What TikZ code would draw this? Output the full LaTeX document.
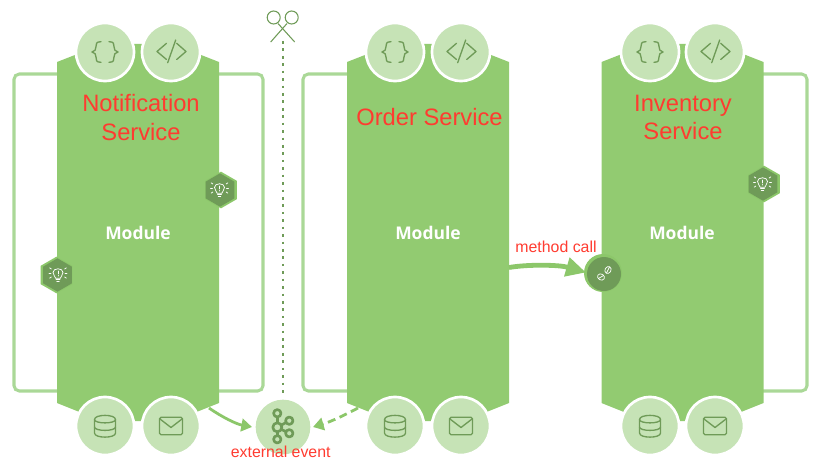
\documentclass[tikz,border=0pt]{standalone}
\usepackage{fontspec}
\setmainfont{Liberation Sans}
\newfontfamily\modfont{Open Sans}
\usetikzlibrary{arrows.meta,shapes.geometric}
\definecolor{modgreen}{HTML}{92CB71}
\definecolor{lightgreen}{HTML}{C6E3B6}
\definecolor{framegreen}{HTML}{AAD897}
\definecolor{darkgreen}{HTML}{6F9B58}
\definecolor{arrowgreen}{HTML}{8CC76A}
\definecolor{redtext}{HTML}{FF3B30}
\tikzset{
  px/.style={x=0.75pt,y=-0.75pt},
  framepath/.style={draw=framegreen,line width=2.3pt,rounded corners=4pt},
  modbody/.style={fill=modgreen,draw=none},
  disc/.style={circle,fill=lightgreen,draw=white,line width=2pt,minimum size=43.5pt,inner sep=0pt},
  icon/.style={draw=darkgreen,line width=1pt,line cap=round,line join=round,fill=none},
  wicon/.style={draw=white,line width=0.55pt,line cap=round,fill=none},
  svc/.style={text=redtext,font=\fontsize{17.8pt}{21.5pt}\selectfont,align=center,inner sep=0pt},
  modlabel/.style={text=white,font=\modfont\bfseries\fontsize{13.1pt}{15pt}\selectfont,inner sep=0pt},
  redlabel/.style={text=redtext,font=\fontsize{11.9pt}{14pt}\selectfont,inner sep=0pt},
  hexring/.style={regular polygon,regular polygon sides=6,shape border rotate=30,fill=arrowgreen,draw=none,minimum size=27.5pt,inner sep=0pt},
  hexcore/.style={regular polygon,regular polygon sides=6,shape border rotate=30,fill=darkgreen,draw=none,minimum size=25pt,inner sep=0pt},
  flow/.style={draw=arrowgreen,line width=2.1pt,-{Triangle[length=8pt,width=9.5pt]}},
}
\newcommand{\modbodyat}[1]{%
  \fill[modbody,shift={(#1,0)}] (-81,62) -- (-35,44) -- (35,44) -- (81,62) -- (81,403) -- (36,421) -- (-36,421) -- (-81,403) -- cycle;}
\newcommand{\bracesicon}[2]{%
  \begin{scope}[shift={(#1,#2)}]
    \draw[icon] (-4,-10.3) .. controls (-9,-10.3) and (-9,-8) .. (-9,-5.5) .. controls (-9,-2.5) and (-10,-0.5) .. (-13,0) .. controls (-10,0.5) and (-9,2.5) .. (-9,5) .. controls (-9,8) and (-9,10.3) .. (-4,10.3);
    \draw[icon] (4,-10.3) .. controls (9,-10.3) and (9,-8) .. (9,-5.5) .. controls (9,-2.5) and (10,-0.5) .. (13,0) .. controls (10,0.5) and (9,2.5) .. (9,5) .. controls (9,8) and (9,10.3) .. (4,10.3);
  \end{scope}}
\newcommand{\codeicon}[2]{%
  \begin{scope}[shift={(#1,#2)}]
    \draw[icon] (-4.5,-8.7) -- (-14,-0.5) -- (-4.5,7.5);
    \draw[icon] (4.7,-12) -- (-3.3,10.7);
    \draw[icon] (5.7,-8.7) -- (15,-0.5) -- (5.7,7.5);
  \end{scope}}
\newcommand{\dbicon}[2]{%
  \begin{scope}[shift={(#1,#2)}]
    \draw[icon] (-10.5,-6.5) .. controls (-10.5,-12) and (10.5,-12) .. (10.5,-6.5) -- (10.5,7) .. controls (10.5,12.5) and (-10.5,12.5) .. (-10.5,7) -- cycle;
    \draw[icon] (-10.5,-6.5) .. controls (-10.5,-2) and (10.5,-2) .. (10.5,-6.5);
    \draw[icon] (-10.5,1) .. controls (-10.5,5.5) and (10.5,5.5) .. (10.5,1);
  \end{scope}}
\newcommand{\mailicon}[2]{%
  \begin{scope}[shift={(#1,#2)}]
    \draw[icon,rounded corners=1.2pt] (-11.5,-8.8) rectangle (11.5,8.8);
    \draw[icon] (-11,-7) -- (0,1.5) -- (11,-7);
  \end{scope}}
\newcommand{\bulbicon}[2]{%
  \begin{scope}[shift={(#1,#2)}]
    \draw[wicon] (-2.4,3.2) .. controls (-2.6,1.2) and (-5,0.2) .. (-5,-2.6) .. controls (-5,-7.4) and (5,-7.4) .. (5,-2.6) .. controls (5,0.2) and (2.6,1.2) .. (2.4,3.2) -- cycle;
    \draw[wicon] (-2,4.6) -- (2,4.6);
    \draw[wicon] (-1.3,6) -- (1.3,6);
    \draw[wicon] (0,-4) -- (0,-1);
    \draw[wicon] (0,0.6) -- (0,0.9);
    \draw[wicon] (-6.6,-6) -- (-8.4,-7.2);
    \draw[wicon] (6.6,-6) -- (8.4,-7.2);
    \draw[wicon] (-7,-2) -- (-9,-2);
    \draw[wicon] (7,-2) -- (9,-2);
    \draw[wicon] (-6.6,2) -- (-8.4,3.2);
    \draw[wicon] (6.6,2) -- (8.4,3.2);
  \end{scope}}
\begin{document}
\begin{tikzpicture}[px]
\useasboundingbox (0,0) rectangle (820,467);
% service frames
\draw[framepath] (60,74) -- (14,74) -- (14,391) -- (60,391);
\draw[framepath] (215,74) -- (263,74) -- (263,391) -- (215,391);
\draw[framepath] (350,74) -- (303,74) -- (303,391) -- (350,391);
\draw[framepath] (760,74) -- (807,74) -- (807,391) -- (760,391);
% modules
\modbodyat{138}
\modbodyat{428}
\modbodyat{682.5}
% scissors and cut line
\coordinate (cutA) at (283,41);
\coordinate (cutB) at (283,393);
\draw[darkgreen,line width=2pt,dash pattern=on 2pt off 3.57pt] (cutA) -- (cutB);
\draw[darkgreen,line width=0.8pt] (273.7,17.5) circle (6.5);
\draw[darkgreen,line width=0.8pt] (291.7,17.5) circle (6.5);
\draw[darkgreen,line width=0.8pt] (270.7,42) -- (287,23.5);
\draw[darkgreen,line width=0.8pt] (294.7,42) -- (278,23.5);
% discs
\node[disc] (a1) at (105,52) {};
\node[disc] (a2) at (171,52) {};
\node[disc] (b1) at (395,52) {};
\node[disc] (b2) at (461,52) {};
\node[disc] (c1) at (650,52) {};
\node[disc] (c2) at (715,52) {};
\node[disc] (a3) at (105,426) {};
\node[disc] (a4) at (171,426) {};
\node[disc] (b3) at (395,426) {};
\node[disc] (b4) at (461,426) {};
\node[disc] (c3) at (650,426) {};
\node[disc] (c4) at (715,426) {};
\bracesicon{105}{52}\codeicon{171}{52}
\bracesicon{395}{52}\codeicon{461}{52}
\bracesicon{650}{52}\codeicon{715}{52}
\dbicon{105}{426}\mailicon{171}{426}
\dbicon{395}{426}\mailicon{461}{426}
\dbicon{650}{426}\mailicon{715}{426}
% kafka node
\node[disc,draw=none,minimum size=41pt] (kafka) at (283,427) {};
\begin{scope}[shift={(283,427)}]
  \draw[icon,line width=2pt] (-5.7,-10) -- (-5.7,8.5);
  \draw[icon,line width=2pt] (-5.7,0.3) -- (6.3,-6.3);
  \draw[icon,line width=2pt] (-5.7,0.3) -- (6.3,6.3);
  \draw[icon,line width=2pt,fill=lightgreen] (-5.7,-13.7) circle (3.7);
  \draw[icon,line width=2pt,fill=lightgreen] (-5.7,0.3) circle (4.5);
  \draw[icon,line width=2pt,fill=lightgreen] (-5.7,12.3) circle (3.7);
  \draw[icon,line width=2pt,fill=lightgreen] (6.3,-6.3) circle (3.7);
  \draw[icon,line width=2pt,fill=lightgreen] (6.3,6.3) circle (3.7);
\end{scope}
% connectors to kafka
\coordinate (outA) at (209,408);
\coordinate (inA) at (252,427);
\coordinate (outB) at (358,408);
\coordinate (inB) at (313,427);
\draw[flow] (outA) .. controls (222,417) and (236,424) .. (inA);
\draw[flow,dash pattern=on 6pt off 3.5pt] (outB) .. controls (345,415) and (330,422) .. (inB);
% hex events
\node[hexring] (h1r) at (221,190) {};
\node[hexcore] (h1) at (220,190) {};
\bulbicon{219.5}{190}
\node[hexring] (h2r) at (56.5,275) {};
\node[hexcore] (h2) at (57.5,275) {};
\bulbicon{58}{275}
\node[hexring] (h3r) at (764,184) {};
\node[hexcore] (h3) at (763,184) {};
\bulbicon{762.5}{184}
% method target
\node[circle,fill=arrowgreen,minimum size=28.5pt,inner sep=0pt] (mring) at (603,273) {};
\node[circle,fill=darkgreen,minimum size=25.5pt,inner sep=0pt] (mcore) at (604,274) {};
\draw[wicon,rotate around={-30:(601,277)}] (601,277) ellipse (3.6 and 3);
\draw[wicon] (598.5,278.5) -- (603.5,275.5);
\draw[wicon,rotate around={-30:(608,270)}] (608,270) ellipse (3 and 3.6);
\draw[wicon] (606.5,273) -- (609.5,267);
% method arrow
\coordinate (mstart) at (509,267.5);
\coordinate (mend) at (586,272.5);
\draw[draw=arrowgreen,line width=3.6pt,-{Triangle[length=15pt,width=14pt]}] (mstart) .. controls (530,264) and (560,265) .. (mend);
% labels
\node[svc] (t1) at (141,117.5) {Notification\\Service};
\node[svc] (t2) at (429.5,117) {Order Service};
\node[svc] (t3) at (683,117.5) {Inventory\\Service};
\node[modlabel] (m1) at (138,233) {Module};
\node[modlabel] (m2) at (428,233) {Module};
\node[modlabel] (m3) at (682,233) {Module};
\node[redlabel] (l1) at (556,246.5) {method call};
\node[redlabel] (l2) at (280.7,451.5) {external event};
\end{tikzpicture}
\end{document}
